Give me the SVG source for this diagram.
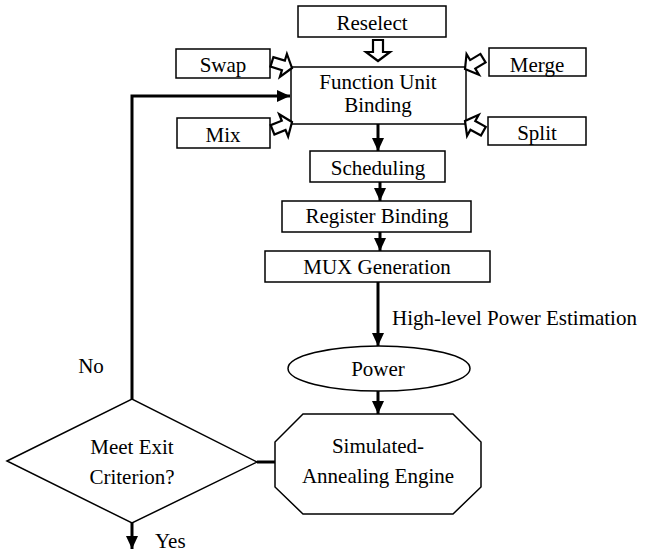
<svg xmlns="http://www.w3.org/2000/svg" width="646" height="553" viewBox="0 0 646 553">
<defs>
<style>
text{font-family:'Liberation Serif','DejaVu Serif',serif;font-size:21px;fill:#000;text-anchor:middle}
.box{fill:#fff;stroke:#000;stroke-width:1.5}
.conn{fill:none;stroke:#000;stroke-width:3}
.hollow{fill:#fff;stroke:#000;stroke-width:2.2;stroke-linejoin:miter}
</style>
<marker id="ah" markerUnits="userSpaceOnUse" markerWidth="14" markerHeight="14" viewBox="0 0 14 14" refX="13" refY="7" orient="auto">
<path d="M0,1 L13,7 L0,13 Z" fill="#000"/>
</marker>
<path id="ha" d="M0,0 L-9,-12 L-9,-5 L-21,-5 L-21,5 L-9,5 L-9,12 Z"/>
</defs>
<rect width="646" height="553" fill="#fff"/>

<g id="connectors">
<path class="conn" d="M132,399 L132,96 L290,96" marker-end="url(#ah)"/>
<path class="conn" d="M378,124 L378,151" marker-end="url(#ah)"/>
<path class="conn" d="M380,182 L380,201" marker-end="url(#ah)"/>
<path class="conn" d="M380,232 L380,251" marker-end="url(#ah)"/>
<path class="conn" d="M378,282 L378,346" marker-end="url(#ah)"/>
<path class="conn" d="M378,391 L378,414" marker-end="url(#ah)"/>
<path class="conn" d="M257,462 L275,462"/>
<path class="conn" d="M132,523 L132,549" marker-end="url(#ah)"/>
<text x="392" y="325" font-family="Liberation Serif, serif" style="text-anchor:start">High-level Power Estimation</text>
<text x="91" y="373" font-family="Liberation Serif, serif">No</text>
<text x="155" y="548" font-family="Liberation Serif, serif" style="text-anchor:start">Yes</text>
</g>

<g id="reselect">
<rect class="box" x="298" y="6" width="148" height="31"/>
<text x="372" y="30">Reselect</text>
</g>
<g id="swap">
<rect class="box" x="176" y="49" width="94" height="29"/>
<text x="223" y="72">Swap</text>
</g>
<g id="merge">
<rect class="box" x="489" y="48" width="97" height="28"/>
<text x="537" y="72">Merge</text>
</g>
<g id="mix">
<rect class="box" x="177" y="118" width="93" height="30"/>
<text x="223" y="142">Mix</text>
</g>
<g id="split">
<rect class="box" x="488" y="117" width="98" height="28"/>
<text x="537" y="140">Split</text>
</g>
<g id="fub">
<rect class="box" x="291" y="67" width="175" height="57"/>
<text x="378" y="89">Function Unit</text>
<text x="378" y="112">Binding</text>
</g>
<g id="move-arrows">
<use href="#ha" class="hollow" transform="translate(378,61) rotate(90)"/>
<use href="#ha" class="hollow" transform="translate(292,68) rotate(17)"/>
<use href="#ha" class="hollow" transform="translate(292,122) rotate(-22)"/>
<use href="#ha" class="hollow" transform="translate(465,69) rotate(149)"/>
<use href="#ha" class="hollow" transform="translate(465,121) rotate(209)"/>
</g>
<g id="scheduling">
<rect class="box" x="310" y="151" width="135" height="31"/>
<text x="378" y="175">Scheduling</text>
</g>
<g id="register-binding">
<rect class="box" x="282" y="201" width="189" height="31"/>
<text x="377" y="223">Register Binding</text>
</g>
<g id="mux-generation">
<rect class="box" x="265" y="251" width="225" height="31"/>
<text x="377" y="274">MUX Generation</text>
</g>
<g id="power">
<ellipse class="box" cx="379" cy="368.5" rx="91" ry="22.5"/>
<text x="378" y="376">Power</text>
</g>
<g id="sa-engine">
<polygon class="box" points="303,414 453,414 481,442 481,487 453,514 303,514 275,487 275,442"/>
<text x="378" y="453">Simulated-</text>
<text x="378" y="483">Annealing Engine</text>
</g>
<g id="exit-criterion">
<polygon class="box" points="7,461 132,399 257,462 132,523"/>
<text x="132" y="454">Meet Exit</text>
<text x="132" y="484">Criterion?</text>
</g>
</svg>
